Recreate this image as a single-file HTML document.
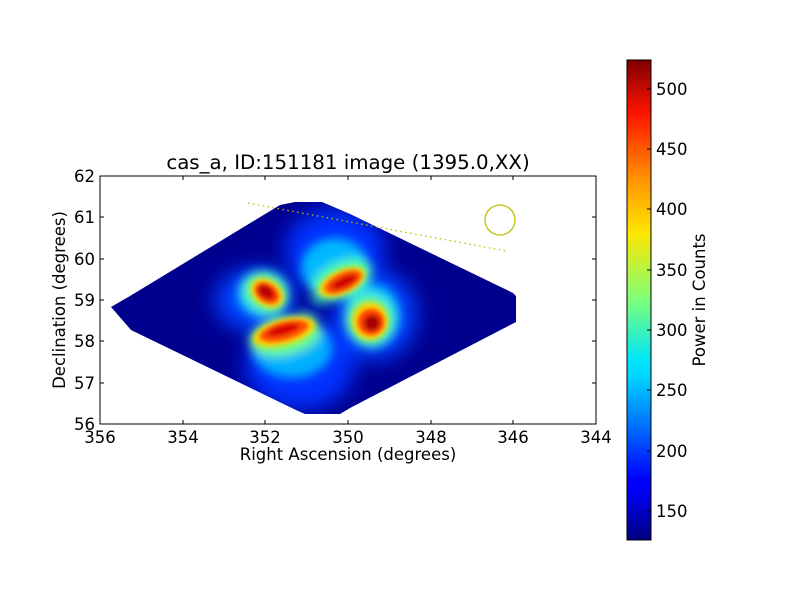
<!DOCTYPE html>
<html><head><meta charset="utf-8"><style>
html,body{margin:0;padding:0;background:#fff;}
text{font-family:"DejaVu Sans","Liberation Sans",sans-serif;fill:#000;}
</style></head><body>
<svg width="800" height="600" viewBox="0 0 800 600" xmlns="http://www.w3.org/2000/svg">
<defs>
<clipPath id="shape"><polygon points="111,307 130,296 280,205 295,202 322,202 350,214 513,293 516,296 516,322 350,408 340,414 305,414 296,410 131,330"/></clipPath>
<filter id="b10" x="-50%" y="-50%" width="200%" height="200%"><feGaussianBlur stdDeviation="10"/></filter>
<filter id="b5" x="-50%" y="-50%" width="200%" height="200%"><feGaussianBlur stdDeviation="5"/></filter>
<filter id="b3" x="-50%" y="-50%" width="200%" height="200%"><feGaussianBlur stdDeviation="3"/></filter>
<filter id="b2" x="-50%" y="-50%" width="200%" height="200%"><feGaussianBlur stdDeviation="2"/></filter>
<linearGradient id="jet" x1="0" y1="1" x2="0" y2="0">
<stop offset="0" stop-color="#00007f"/><stop offset="0.11" stop-color="#0000ff"/><stop offset="0.125" stop-color="#0000ff"/>
<stop offset="0.34" stop-color="#00d4ff"/><stop offset="0.375" stop-color="#00e5f8"/><stop offset="0.5" stop-color="#7dff7a"/>
<stop offset="0.64" stop-color="#ffe600"/><stop offset="0.75" stop-color="#ff9400"/><stop offset="0.89" stop-color="#ff1300"/><stop offset="1" stop-color="#7f0000"/>
</linearGradient>
</defs>
<g clip-path="url(#shape)">
<rect x="100" y="176" width="496" height="248" fill="#00008f"/>
<g filter="url(#b10)">
<ellipse cx="335" cy="250" rx="50" ry="42" fill="#0030ff"/>
<ellipse cx="300" cy="365" rx="55" ry="45" fill="#0030ff"/>
<ellipse cx="375" cy="315" rx="42" ry="45" fill="#0040ff"/>
<ellipse cx="255" cy="300" rx="40" ry="32" fill="#0040ff"/>
</g>
<g filter="url(#b5)">
<ellipse cx="335" cy="268" rx="34" ry="30" fill="#00b8ff"/>
<ellipse cx="292" cy="348" rx="40" ry="30" fill="#00b0ff"/>
<ellipse cx="372" cy="316" rx="28" ry="32" fill="#00c8ff"/>
<ellipse cx="263" cy="294" rx="26" ry="24" fill="#00c0ff"/>
<ellipse cx="342" cy="280" rx="32" ry="18" fill="#50ffa8" transform="rotate(-25 342 280)"/>
<ellipse cx="285" cy="336" rx="36" ry="19" fill="#70ff88" transform="rotate(-12 285 336)"/>
<ellipse cx="370" cy="320" rx="23" ry="25" fill="#60ff98"/>
<ellipse cx="266" cy="293" rx="23" ry="19" fill="#60ff98" transform="rotate(30 266 293)"/>
<ellipse cx="312" cy="308" rx="12" ry="9" fill="#0018b0"/>
</g>
<g filter="url(#b3)">
<ellipse cx="342" cy="282" rx="25" ry="12" fill="#ffd000" transform="rotate(-25 342 282)"/>
<ellipse cx="284" cy="332" rx="32" ry="13" fill="#ffd000" transform="rotate(-15 284 332)"/>
<ellipse cx="370" cy="321" rx="18" ry="19" fill="#ffd000"/>
<ellipse cx="267" cy="293" rx="18" ry="13" fill="#ffd000" transform="rotate(35 267 293)"/>
</g>
<g filter="url(#b2)">
<ellipse cx="343" cy="282" rx="20" ry="9" fill="#ff5000" transform="rotate(-25 343 282)"/>
<ellipse cx="284" cy="331" rx="25" ry="9" fill="#ff5000" transform="rotate(-15 284 331)"/>
<ellipse cx="371" cy="322" rx="13" ry="13" fill="#ff4000"/>
<ellipse cx="267" cy="293" rx="13" ry="9" fill="#ff4000" transform="rotate(35 267 293)"/>
<ellipse cx="344" cy="282" rx="14" ry="5" fill="#d00000" transform="rotate(-25 344 282)"/>
<ellipse cx="283" cy="330" rx="17" ry="5" fill="#d80000" transform="rotate(-15 283 330)"/>
<ellipse cx="372" cy="323" rx="8" ry="8" fill="#a80000"/>
<ellipse cx="266" cy="292" rx="9" ry="6" fill="#b80000" transform="rotate(35 266 292)"/>
</g>
</g>
<line x1="248" y1="203" x2="506" y2="251" stroke="#bfbf00" stroke-width="1.3" stroke-dasharray="1.5,3.5"/>
<circle cx="500" cy="220" r="15" fill="none" stroke="#bfbf00" stroke-width="1.3"/>
<rect x="100" y="176" width="496" height="248" fill="none" stroke="#000" stroke-width="1"/>
<g stroke="#000" stroke-width="1">
<line x1="183" y1="176" x2="183" y2="180"/><line x1="183" y1="424" x2="183" y2="420"/>
<line x1="265" y1="176" x2="265" y2="180"/><line x1="265" y1="424" x2="265" y2="420"/>
<line x1="348" y1="176" x2="348" y2="180"/><line x1="348" y1="424" x2="348" y2="420"/>
<line x1="431" y1="176" x2="431" y2="180"/><line x1="431" y1="424" x2="431" y2="420"/>
<line x1="513" y1="176" x2="513" y2="180"/><line x1="513" y1="424" x2="513" y2="420"/>
<line x1="100" y1="217" x2="104" y2="217"/><line x1="596" y1="217" x2="592" y2="217"/>
<line x1="100" y1="259" x2="104" y2="259"/><line x1="596" y1="259" x2="592" y2="259"/>
<line x1="100" y1="300" x2="104" y2="300"/><line x1="596" y1="300" x2="592" y2="300"/>
<line x1="100" y1="341" x2="104" y2="341"/><line x1="596" y1="341" x2="592" y2="341"/>
<line x1="100" y1="383" x2="104" y2="383"/><line x1="596" y1="383" x2="592" y2="383"/>
</g>
<g font-size="16.5" text-anchor="middle">
<text x="100" y="443">356</text><text x="183" y="443">354</text><text x="265" y="443">352</text><text x="348" y="443">350</text><text x="431" y="443">348</text><text x="513" y="443">346</text><text x="596" y="443">344</text>
</g>
<g font-size="16.5" text-anchor="end">
<text x="95" y="182">62</text><text x="95" y="223">61</text><text x="95" y="265">60</text><text x="95" y="306">59</text><text x="95" y="347">58</text><text x="95" y="389">57</text><text x="95" y="430">56</text>
</g>
<text x="348" y="460" font-size="16.5" text-anchor="middle">Right Ascension (degrees)</text>
<text x="0" y="0" font-size="16.5" text-anchor="middle" transform="translate(65,300) rotate(-90)">Declination (degrees)</text>
<text x="348" y="169" font-size="19.8" text-anchor="middle">cas_a, ID:151181 image (1395.0,XX)</text>
<rect x="627" y="60" width="24" height="480" fill="url(#jet)" stroke="#000" stroke-width="1"/>
<g stroke="#000"><line x1="647" y1="511" x2="651" y2="511"/><line x1="647" y1="451" x2="651" y2="451"/><line x1="647" y1="390" x2="651" y2="390"/><line x1="647" y1="330" x2="651" y2="330"/><line x1="647" y1="270" x2="651" y2="270"/><line x1="647" y1="209" x2="651" y2="209"/><line x1="647" y1="149" x2="651" y2="149"/><line x1="647" y1="89" x2="651" y2="89"/></g>
<g font-size="16.5">
<text x="656" y="517">150</text><text x="656" y="457">200</text><text x="656" y="396">250</text><text x="656" y="336">300</text><text x="656" y="276">350</text><text x="656" y="215">400</text><text x="656" y="155">450</text><text x="656" y="95">500</text>
</g>
<text x="0" y="0" font-size="16.5" text-anchor="middle" transform="translate(705,300) rotate(-90)">Power in Counts</text>
</svg>
</body></html>
